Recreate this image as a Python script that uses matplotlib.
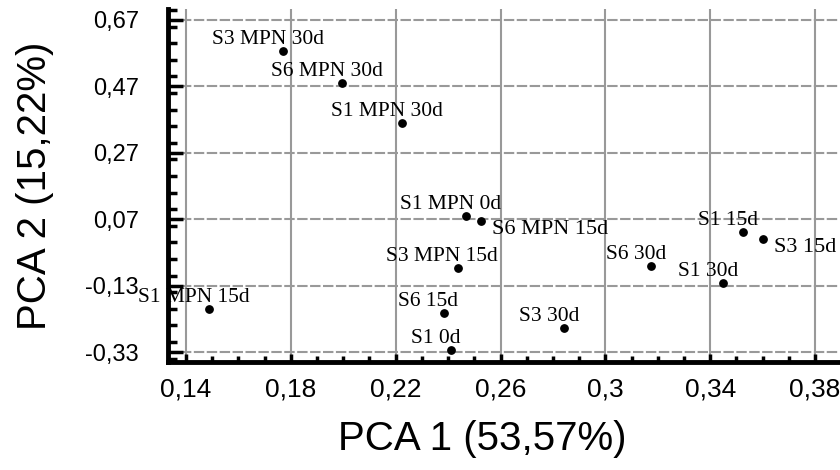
import matplotlib
matplotlib.use("Agg")
import matplotlib.pyplot as plt
from matplotlib.ticker import MultipleLocator, FuncFormatter

labels = ["S3 MPN 30d", "S6 MPN 30d", "S1 MPN 30d", "S1 MPN 0d", "S6 MPN 15d",
          "S3 MPN 15d", "S1 MPN 15d", "S6 15d", "S1 0d", "S6 30d", "S3 30d",
          "S1 15d", "S3 15d", "S1 30d"]
pca1 = [0.177, 0.1994, 0.2223, 0.2467, 0.2524, 0.2436, 0.1488, 0.2383, 0.241,
        0.3175, 0.2844, 0.3526, 0.3602, 0.345]
pca2 = [0.577, 0.48, 0.36, 0.0797, 0.0646, -0.077, -0.2005, -0.2125, -0.324,
        -0.071, -0.258, 0.031, 0.0104, -0.122]
# these two labels sit lower right of their point in a wider font
below_right = ["S6 MPN 15d", "S3 15d"]

xticks = [0.14, 0.18, 0.22, 0.26, 0.30, 0.34, 0.38]
yticks = [-0.33, -0.13, 0.07, 0.27, 0.47, 0.67]

fig = plt.figure(figsize=(8.4, 4.7), dpi=100)
ax = fig.add_axes([168/840, 1 - 362/470, 670/840, 353/470])

ax.set_xlim(0.1331, 0.3888)
ax.set_ylim(-0.360, 0.703)

for x in xticks:
    ax.axvline(x, color="#999999", lw=1.5, zorder=0)
for y in yticks:
    ax.axhline(y, color="#999999", lw=1.5, ls=(0, (5, 1.2)), zorder=0)

ax.scatter(pca1, pca2, s=28, c="black", zorder=3)

for lab, x, y in zip(labels, pca1, pca2):
    if lab in below_right:
        ax.annotate(lab, (x, y), xytext=(8, 1), textcoords="offset points",
                    ha="left", va="top", fontsize=16, family="Liberation Serif")
    else:
        ax.annotate(lab, (x, y), xytext=(-11, 1.5), textcoords="offset points",
                    ha="center", va="bottom", fontsize=15.5, family="Liberation Serif")

ax.set_xticks(xticks)
ax.set_yticks(yticks)
ax.xaxis.set_minor_locator(MultipleLocator(0.01))
ax.yaxis.set_minor_locator(MultipleLocator(0.05))
fmt = FuncFormatter(lambda v, p: ("%g" % round(v, 2)).replace(".", ","))
ax.xaxis.set_major_formatter(fmt)
ax.yaxis.set_major_formatter(fmt)

ax.spines["top"].set_visible(False)
ax.spines["right"].set_visible(False)
ax.spines["left"].set_linewidth(3.5)
ax.spines["bottom"].set_linewidth(3.5)
ax.tick_params(axis="y", which="major", direction="in", length=11, width=2.5,
               labelsize=17, pad=21)
ax.tick_params(axis="y", which="minor", direction="in", length=6.5, width=2.5)
ax.tick_params(axis="x", which="major", direction="in", length=6, width=2.5,
               labelsize=19, pad=11)
ax.tick_params(axis="x", which="minor", direction="in", length=4, width=2.5)
for t in ax.get_xticklabels() + ax.get_yticklabels():
    t.set_family("Liberation Sans")

ax.set_xlabel("PCA 1 (53,57%)", fontsize=29, family="Liberation Sans")
ax.set_ylabel("PCA 2 (15,22%)", fontsize=29, family="Liberation Sans")
ax.xaxis.set_label_coords(0.469, -0.163)
ax.yaxis.set_label_coords(-0.17, 0.5)

fig.savefig("out.png", dpi=100)
